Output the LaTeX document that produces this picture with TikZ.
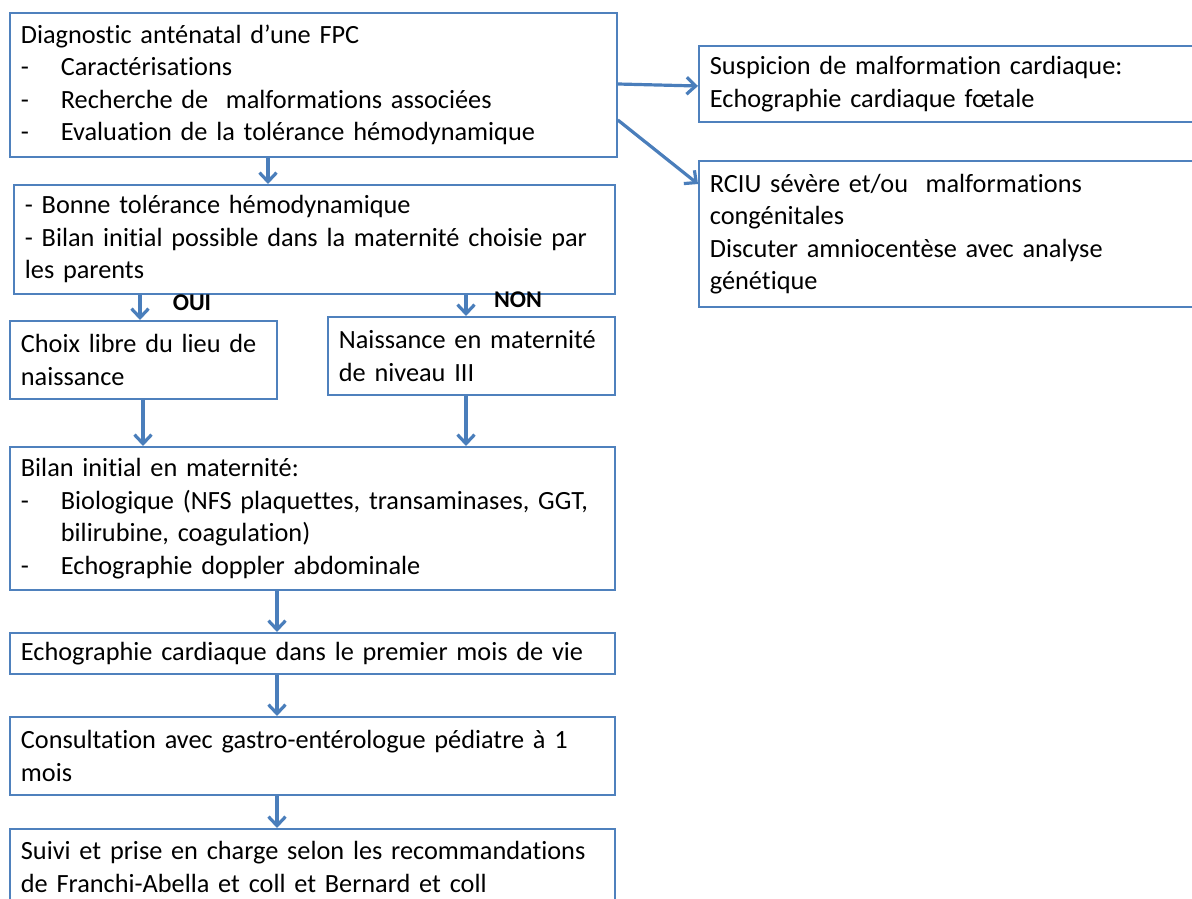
\documentclass[tikz,border=0pt]{standalone}
\usepackage{fontspec}
\setmainfont{Carlito}[Ligatures=NoCommon]
\usetikzlibrary{arrows.meta}
\definecolor{boxblue}{RGB}{79,129,189}
\definecolor{arrowblue}{RGB}{74,126,187}
\newcommand\puce{\makebox[40pt][l]{-}}

\begin{document}
\begin{tikzpicture}[x=1pt,y=-1pt]
\tikzstyle{box}=[draw=boxblue, line width=1.8pt, anchor=north west, align=left, inner xsep=11pt, inner ysep=0pt, font=\fontsize{26.3}{32.5}\selectfont]
\tikzstyle{arr}=[draw=arrowblue, line width=3.2pt, -{Straight Barb[length=9pt,width=17pt]}]
\tikzstyle{lab}=[font=\fontsize{24}{26}\selectfont\bfseries]
\useasboundingbox (0,0) rectangle (1192,899);
\node (diag) [box, text width=585pt, minimum height=144pt] at (9,12) {Diagnostic anténatal d’une FPC\\ \puce Caractérisations\\ \puce Recherche de\ \ malformations associées\\ \puce Evaluation de la tolérance hémodynamique};
\node (susp) [box, text width=488pt, minimum height=76pt] at (698,45) {Suspicion de malformation cardiaque:\\Echographie cardiaque fœtale};
\node (rciu) [box, text width=488pt, minimum height=146pt] at (698,160) {RCIU sévère et/ou\ \ malformations\\congénitales\\Discuter amniocentèse avec analyse\\génétique};
\node (bonne) [box, text width=579pt, minimum height=109pt] at (13,184) {- Bonne tolérance hémodynamique\\- Bilan initial possible dans la maternité choisie par\\les parents};
\node (ouilab) [lab] at (192,303) {OUI};
\node (nonlab) [lab] at (518,300) {NON};
\node (libre) [box, text width=245pt, minimum height=78pt] at (9,320) {Choix libre du lieu de\\naissance};
\node (niveau) [box, text width=265pt, minimum height=78pt] at (327,316) {Naissance en maternité\\de niveau III};
\node (bilan) [box, text width=583pt, minimum height=143pt] at (9,446) {Bilan initial en maternité:\\ \puce Biologique (NFS plaquettes, transaminases, GGT,\\ \hspace*{40pt}bilirubine, coagulation)\\ \puce Echographie doppler abdominale};
\node (echo) [box, text width=583pt, minimum height=41pt] at (9,632) {Echographie cardiaque dans le premier mois de vie};
\node (consult) [box, text width=583pt, minimum height=78pt] at (9,716) {Consultation avec gastro-entérologue pédiatre à 1\\mois};
\node (suivi) [box, text width=583pt, minimum height=76pt] at (9,828) {Suivi et prise en charge selon les recommandations\\de Franchi-Abella et coll et Bernard et coll};
\draw[arr] ([xshift=259pt]diag.south west) -- ([xshift=255pt]bonne.north west);
\draw[arr] ([yshift=-72pt]diag.north east) -- ([yshift=-41pt]susp.north west);
\draw[arr] ([yshift=-108pt]diag.north east) -- ([yshift=-24pt]rciu.north west);
\draw[arr] ([xshift=127pt]bonne.south west) -- ([xshift=131pt]libre.north west);
\draw[arr] ([xshift=453pt]bonne.south west) -- ([xshift=139pt]niveau.north west);
\draw[arr] ([xshift=134pt]libre.south west) -- ([xshift=134pt]bilan.north west);
\draw[arr] ([xshift=139pt]niveau.south west) -- ([xshift=457pt]bilan.north west);
\draw[arr] ([xshift=268pt]bilan.south west) -- ([xshift=268pt]echo.north west);
\draw[arr] ([xshift=268pt]echo.south west) -- ([xshift=268pt]consult.north west);
\draw[arr] ([xshift=268pt]consult.south west) -- ([xshift=268pt]suivi.north west);
\end{tikzpicture}
\end{document}
